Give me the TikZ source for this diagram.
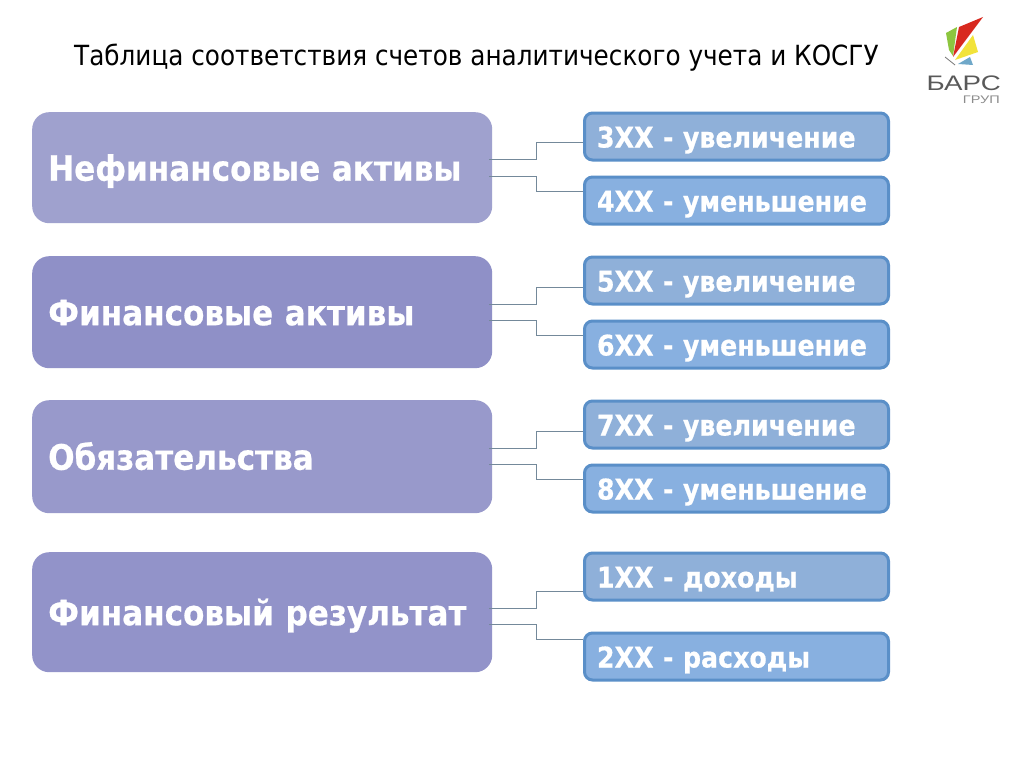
\documentclass[tikz,border=0pt]{standalone}
\usepackage{fontspec}
\setmainfont{DejaVu Sans}[FakeStretch=0.89]
\newfontfamily\boldf{DejaVu Sans}[BoldFeatures={FakeStretch=0.89,FakeBold=0.6}]
\newfontfamily\logof{Liberation Sans}[FakeStretch=1.32]
\definecolor{lefta}{HTML}{9FA1CE}
\definecolor{leftb}{HTML}{8F90C7}
\definecolor{leftc}{HTML}{9899CB}
\definecolor{leftd}{HTML}{9293C9}
\definecolor{righta}{HTML}{8FB0D9}
\definecolor{rightb}{HTML}{88B0E0}
\definecolor{edgeblue}{HTML}{5A8FC8}
\definecolor{linkc}{HTML}{74899A}
\definecolor{logogreen}{HTML}{8DC63F}
\definecolor{logored}{HTML}{D8291F}
\definecolor{logoyellow}{HTML}{F2E33A}
\definecolor{logoblue}{HTML}{6FA8C9}
\tikzset{
  bigbox/.style={rounded corners=17pt,minimum width=460pt,text width=428pt,inner sep=0pt,align=left,text=white,text height=26pt,text depth=0pt,font=\boldf\bfseries\fontsize{34.9}{40}\selectfont,anchor=north west},
  smallbox/.style={draw=edgeblue,line width=3pt,rounded corners=8pt,minimum width=304pt,minimum height=47pt,text width=279pt,inner sep=0pt,align=left,text=white,text height=22pt,text depth=0pt,font=\boldf\bfseries\fontsize{28.4}{32}\selectfont,anchor=north west},
  link/.style={draw=linkc,line width=1pt}
}
\begin{document}
\begin{tikzpicture}[x=1pt,y=-1pt]
\useasboundingbox (0,0) rectangle (1024,768);
\fill[white] (0,0) rectangle (1024,768);
\node[anchor=base west,inner sep=0pt,font=\fontsize{27.76}{32}\selectfont] (title) at (74,65) {Таблица соответствия счетов аналитического учета и КОСГУ};

\node[bigbox,fill=lefta,minimum height=111pt] (n1) at (32,112) {Нефинансовые активы};
\node[bigbox,fill=leftb,minimum height=112pt] (n2) at (32,256) {Финансовые активы};
\node[bigbox,fill=leftc,minimum height=113pt] (n3) at (32,400) {Обязательства};
\node[bigbox,fill=leftd,minimum height=120pt] (n4) at (32,552) {Финансовый результат};

\node[smallbox,fill=righta] (r3) at (583,111.5) {3XX - увеличение};
\node[smallbox,fill=rightb] (r4) at (583,175.5) {4XX - уменьшение};
\node[smallbox,fill=righta] (r5) at (583,255.5) {5XX - увеличение};
\node[smallbox,fill=rightb] (r6) at (583,319.5) {6XX - уменьшение};
\node[smallbox,fill=righta] (r7) at (583,399.5) {7XX - увеличение};
\node[smallbox,fill=rightb] (r8) at (583,463.5) {8XX - уменьшение};
\node[smallbox,fill=righta] (r1) at (583,551.5) {1XX - доходы};
\node[smallbox,fill=rightb] (r2) at (583,631.5) {2XX - расходы};

\foreach \a/\b/\c/\u/\v/\p/\q in {n1/r3/r4/8/-8.5/-6.3/8.7,n2/r5/r6/8/-8/-7.3/8.7,n3/r7/r8/8.5/-7.5/-7.3/8.7,n4/r1/r2/4/-12/-15.3/16.7}{
  \draw[link] ([xshift=-3pt,yshift=\u pt]\a.east) -- ++(47,0) |- ([yshift=\p pt]\b.west);
  \draw[link] ([xshift=-3pt,yshift=\v pt]\a.east) -- ++(47,0) |- ([yshift=\q pt]\c.west);
}

% logo
\fill[logoblue] (958,64) -- (970,57) -- (973,65) -- cycle;
\fill[logogreen] (946,33) -- (957,27) -- (953,56) -- (949,50) -- cycle;
\fill[logoyellow] (955,60) -- (973,35) -- (978,52) -- cycle;
\fill[logored] (953,57) -- (959,27) -- (983,17) -- cycle;
\draw[black!55,line width=.8pt] (945,57) -- (955,65);
\node[anchor=base east,inner sep=0pt,text=black!65,font=\logof\fontsize{21}{21}\selectfont] (logoa) at (1001,90) {БАРС};
\node[anchor=base east,inner sep=0pt,text=black!45,font=\logof\fontsize{11}{11}\selectfont] (logob) at (1000,103) {ГРУП};
\end{tikzpicture}
\end{document}
